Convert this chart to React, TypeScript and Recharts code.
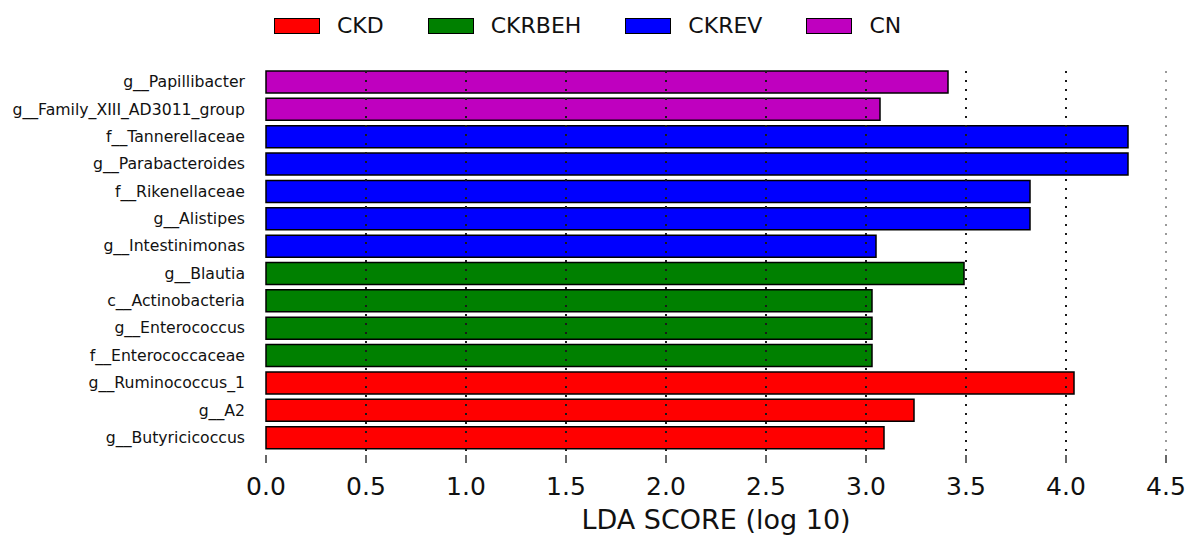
import React from 'react';
import { BarChart, Bar, XAxis, YAxis, Cell, ReferenceLine } from 'recharts';

const categories = [
  'g__Papillibacter',
  'g__Family_XIII_AD3011_group',
  'f__Tannerellaceae',
  'g__Parabacteroides',
  'f__Rikenellaceae',
  'g__Alistipes',
  'g__Intestinimonas',
  'g__Blautia',
  'c__Actinobacteria',
  'g__Enterococcus',
  'f__Enterococcaceae',
  'g__Ruminococcus_1',
  'g__A2',
  'g__Butyricicoccus',
];
const ldaScores = [3.41, 3.07, 4.31, 4.31, 3.82, 3.82, 3.05, 3.49, 3.03, 3.03, 3.03, 4.04, 3.24, 3.09];
const classes = ['CN', 'CN', 'CKREV', 'CKREV', 'CKREV', 'CKREV', 'CKREV', 'CKRBEH', 'CKRBEH', 'CKRBEH', 'CKRBEH', 'CKD', 'CKD', 'CKD'];
const groups = ['CKD', 'CKRBEH', 'CKREV', 'CN'];
const groupColors = ['#FF0000', '#008000', '#0000FF', '#BF00BF'];
const xTicks = [0, 0.5, 1, 1.5, 2, 2.5, 3, 3.5, 4, 4.5];
const gridTicks = [0.5, 1, 1.5, 2, 2.5, 3, 3.5, 4, 4.5];

const data = categories.map((name, i) => ({ name, value: ldaScores[i], cls: classes[i] }));
const colorOf = (cls: string) => groupColors[groups.indexOf(cls)];

const FONT = '"DejaVu Sans", sans-serif';
const W = 1187;
const H = 536;
const MARGIN = { top: 68, right: 21, bottom: 0, left: 0 };

const BottomTick = (props: any) => {
  const { x, y, payload } = props;
  return (
    <g>
      <line x1={x} x2={x} y1={y + 4} y2={y + 12} stroke="#333" strokeWidth={1.5} />
      <text x={x} y={y + 44} textAnchor="middle" fontSize={25} fill="#111" fontFamily={FONT}>
        {Number(payload.value).toFixed(1)}
      </text>
    </g>
  );
};

const TopTick = (props: any) => {
  const { x, y } = props;
  return <line x1={x} x2={x} y1={y - 13} y2={y - 3} stroke="#333" strokeWidth={1.5} />;
};

export default function App() {
  return (
    <div style={{ position: 'absolute', left: 0, top: 0, width: W, height: H, background: '#fff', fontFamily: FONT }}>
      <div style={{ position: 'absolute', left: 274, top: 17, height: 17, display: 'flex', alignItems: 'center' }}>
        {groups.map((g, i) => (
          <div key={g} style={{ display: 'flex', alignItems: 'center' }}>
            <div style={{ width: 44, height: 14, background: groupColors[i], border: '1.5px solid #000' }} />
            <span style={{ marginLeft: 17, marginRight: 44, fontSize: 22, lineHeight: '17px', color: '#111' }}>{g}</span>
          </div>
        ))}
      </div>
      <div style={{ position: 'absolute', left: 0, top: 0 }}>
        <BarChart width={W} height={H} data={data} layout="vertical" margin={MARGIN} barCategoryGap={0} style={{ fontFamily: FONT }}>
          <XAxis
            type="number"
            xAxisId="bottom"
            orientation="bottom"
            domain={[0, 4.5]}
            ticks={xTicks}
            interval={0}
            height={85}
            axisLine={false}
            tickLine={false}
            tickSize={0}
            tickMargin={0}
            tick={<BottomTick />}
            label={{ value: 'LDA SCORE (log 10)', position: 'insideBottom', offset: 7, fontSize: 27, fill: '#111', fontFamily: FONT }}
          />
          <XAxis
            type="number"
            xAxisId="top"
            orientation="top"
            domain={[0, 4.5]}
            ticks={xTicks}
            interval={0}
            height={0}
            axisLine={false}
            tickLine={false}
            tickSize={0}
            tickMargin={0}
            tick={<TopTick />}
          />
          <YAxis
            type="category"
            dataKey="name"
            width={266}
            axisLine={false}
            tickLine={false}
            tickSize={0}
            tickMargin={21}
            interval={0}
            tick={{ fontSize: 15.7, fill: '#111', fontFamily: FONT }}
          />
          <Bar dataKey="value" xAxisId="bottom" barSize={22} stroke="#000" strokeWidth={1.5} isAnimationActive={false}>
            {data.map((d, i) => (
              <Cell key={i} fill={colorOf(d.cls)} />
            ))}
          </Bar>
        </BarChart>
      </div>
      <div style={{ position: 'absolute', left: 0, top: 0, pointerEvents: 'none' }}>
        <BarChart width={W} height={H} data={data} layout="vertical" margin={MARGIN} barCategoryGap={0}>
          <XAxis type="number" xAxisId="bottom" orientation="bottom" domain={[0, 4.5]} ticks={xTicks} height={85} axisLine={false} tickLine={false} tick={false} />
          <YAxis type="category" dataKey="name" width={266} axisLine={false} tickLine={false} tick={false} />
          <Bar dataKey="value" xAxisId="bottom" barSize={22} fill="none" stroke="none" isAnimationActive={false} />
          {gridTicks.map((t) => (
            <ReferenceLine key={t} x={t} xAxisId="bottom" stroke={t === 4.5 ? '#999' : '#1a1a1a'} strokeWidth={2} strokeDasharray="2 7" />
          ))}
        </BarChart>
      </div>
    </div>
  );
}
